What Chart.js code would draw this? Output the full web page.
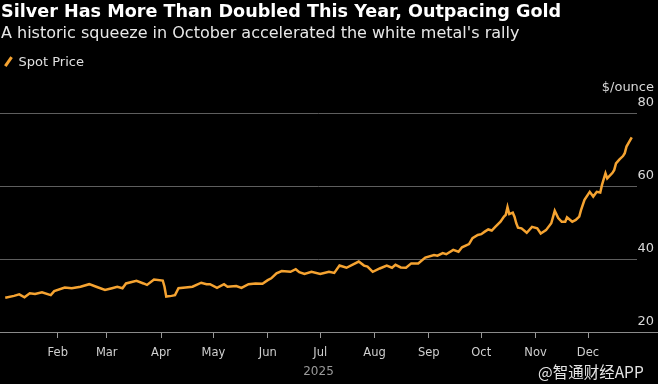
<!DOCTYPE html>
<html>
<head>
<meta charset="utf-8">
<script src="https://cdn.jsdelivr.net/npm/chart.js@4.4.1/dist/chart.umd.min.js"></script>
<style>
  body { margin: 0; background: #000; }
  #wrap { position: relative; width: 658px; height: 384px; overflow: hidden;
    font-family: "DejaVu Sans", sans-serif; }
  #title { position: absolute; left: 1px; top: 1px; color: #fff; font-weight: bold; font-size: 17.6px; white-space: nowrap; }
  #sub { position: absolute; left: 1px; top: 23px; color: #e8e8e8; font-size: 16px; white-space: nowrap; }
  #legend { position: absolute; left: 3px; top: 54px; color: #e0e0e0; font-size: 13px; white-space: nowrap; }
  #legend .key { display: inline-block; width: 2.5px; height: 11px; background: #f5a331;
    transform: rotate(35deg); margin: 0 9px 0 4px; vertical-align: -1px; }
  #mark { position: absolute; left: 538px; top: 360px; color: #e4e4e4; font-size: 15.5px;
    font-family: "Noto Sans CJK SC", sans-serif; white-space: nowrap; }
  canvas { position: absolute; left: 0; top: 0; }
</style>
</head>
<body>
<div id="wrap">
  <canvas id="myChart" width="658" height="384"></canvas>
  <div id="title">Silver Has More Than Doubled This Year, Outpacing Gold</div>
  <div id="sub">A historic squeeze in October accelerated the white metal's rally</div>
  <div id="legend"><span class="key"></span>Spot Price</div>
  <div id="mark">@智通财经APP</div>
</div>
<script>
// day of year (0 = Jan 1, 2025) and spot price in $/ounce
var day = [1, 6, 9, 12, 15, 18, 22, 27, 29, 35,
  39, 44, 49, 53, 58, 62, 65, 68, 70, 76,
  80, 82, 86, 91, 92, 93, 96, 98, 100, 104,
  108, 113, 116, 118, 122, 126, 128, 133, 136, 140,
  144, 148, 151, 153, 156, 159, 164, 167, 169, 172,
  176, 181, 186, 189, 192, 196, 203, 206, 208, 211,
  215, 219, 222, 224, 227, 230, 233, 237, 241, 246,
  248, 251, 253, 257, 260, 262, 266, 268, 271, 273,
  275, 277, 279, 281, 284, 286, 287, 288, 289, 291,
  292, 293, 294, 296, 299, 302, 305, 307, 310, 313,
  315, 317, 319, 321, 322, 325, 327, 329, 330, 332,
  335, 337, 339, 341, 342, 344, 345, 348, 349, 350,
  352, 354, 355, 356, 359];

var price = [29.4, 29.9, 30.3, 29.5, 30.6, 30.4, 30.9, 30.1, 31.2, 32.2,
  32.0, 32.4, 33.1, 32.4, 31.5, 32.0, 32.4, 32.0, 33.3, 34.0,
  33.3, 32.9, 34.4, 34.1, 32.4, 29.7, 29.9, 30.1, 32.0, 32.2,
  32.4, 33.5, 33.1, 33.1, 32.1, 33.1, 32.4, 32.6, 32.1, 33.1,
  33.3, 33.2, 34.2, 34.7, 36.1, 36.7, 36.5, 37.2, 36.4, 35.9,
  36.5, 35.9, 36.5, 36.2, 38.2, 37.6, 39.3, 38.2, 37.9, 36.5,
  37.4, 38.2, 37.6, 38.4, 37.7, 37.6, 38.8, 38.8, 40.4, 41.1,
  40.9, 41.6, 41.3, 42.5, 42.0, 43.2, 44.1, 45.7, 46.6, 46.8,
  47.5, 48.1, 47.8, 48.8, 50.2, 51.6, 52.1, 54.2, 52.3, 52.7,
  51.6, 49.8, 48.6, 48.4, 47.2, 48.8, 48.4, 47.0, 47.9, 49.8,
  53.2, 51.2, 50.2, 50.2, 51.4, 50.2, 50.7, 51.6, 53.4, 56.2,
  58.4, 57.1, 58.4, 58.2, 60.3, 63.5, 62.1, 63.6, 64.4, 66.2,
  67.3, 68.2, 69.0, 70.8, 73.3];

var monthStarts = [31, 59, 90, 120, 151, 181, 212, 243, 273, 304, 334];
var monthLabels = ["Feb", "Mar", "Apr", "May", "Jun", "Jul", "Aug", "Sep", "Oct", "Nov", "Dec"];
var yTicks = [20, 40, 60, 80];

Chart.defaults.font.family = '"DejaVu Sans", sans-serif';

var points = day.map(function (d, i) {
  return { x: d, y: price[i] };
});

// bottom axis line running the full width
var axisLine = {
  id: "axisLine",
  beforeDatasetsDraw: function (chart) {
    var c = chart.ctx, y = Math.round(chart.chartArea.bottom) + 0.5;
    c.save();
    c.strokeStyle = "#8a8a8a";
    c.lineWidth = 1;
    c.beginPath();
    c.moveTo(0, y);
    c.lineTo(chart.width, y);
    c.stroke();
    c.restore();
  },
};

var unitLabel = {
  id: "unitLabel",
  afterDraw: function (chart) {
    var c = chart.ctx;
    c.save();
    c.fillStyle = "#d8d8d8";
    c.font = '13px "DejaVu Sans", sans-serif';
    c.textAlign = "right";
    c.textBaseline = "middle";
    c.fillText("$/ounce", chart.width - 4, chart.chartArea.top - 25);
    c.restore();
  },
};

const ctx = document.getElementById("myChart");

new Chart(ctx, {
  type: "line",
  data: {
    datasets: [
      {
        label: "Spot Price",
        data: points,
        borderColor: "#f5a331",
        borderWidth: 2.5,
        pointRadius: 0,
        tension: 0,
      },
    ],
  },
  options: {
    responsive: false,
    animation: false,
    layout: { padding: { top: 113, right: 4, left: 0, bottom: 0 } },
    plugins: { legend: { display: false }, tooltip: { enabled: false } },
    scales: {
      x: {
        type: "linear",
        min: -2,
        max: 362,
        afterBuildTicks: function (s) {
          s.ticks = monthStarts.map(function (v) { return { value: v }; });
        },
        afterFit: function (s) { s.height = 52; },
        ticks: {
          autoSkip: false,
          maxRotation: 0,
          padding: 8,
          color: "#cfcfcf",
          font: { size: 11.5 },
          callback: function (v, i) { return monthLabels[i]; },
        },
        grid: { drawOnChartArea: false, drawTicks: true, tickLength: 6, color: "#9a9a9a" },
        border: { display: false },
        title: { display: true, text: "2025", color: "#9a9a9a", padding: { top: 0, bottom: 5 }, font: { size: 12 } },
      },
      y: {
        position: "right",
        min: 20,
        max: 80,
        afterBuildTicks: function (s) {
          s.ticks = yTicks.map(function (v) { return { value: v }; });
        },
        afterFit: function (s) { s.width = 17; },
        ticks: { crossAlign: "far", labelOffset: -10, padding: 0, color: "#d8d8d8", font: { size: 13 } },
        grid: { color: "#5e5e5e", drawTicks: false },
        border: { display: false },
      },
    },
  },
  plugins: [axisLine, unitLabel],
});
</script>
</body>
</html>
